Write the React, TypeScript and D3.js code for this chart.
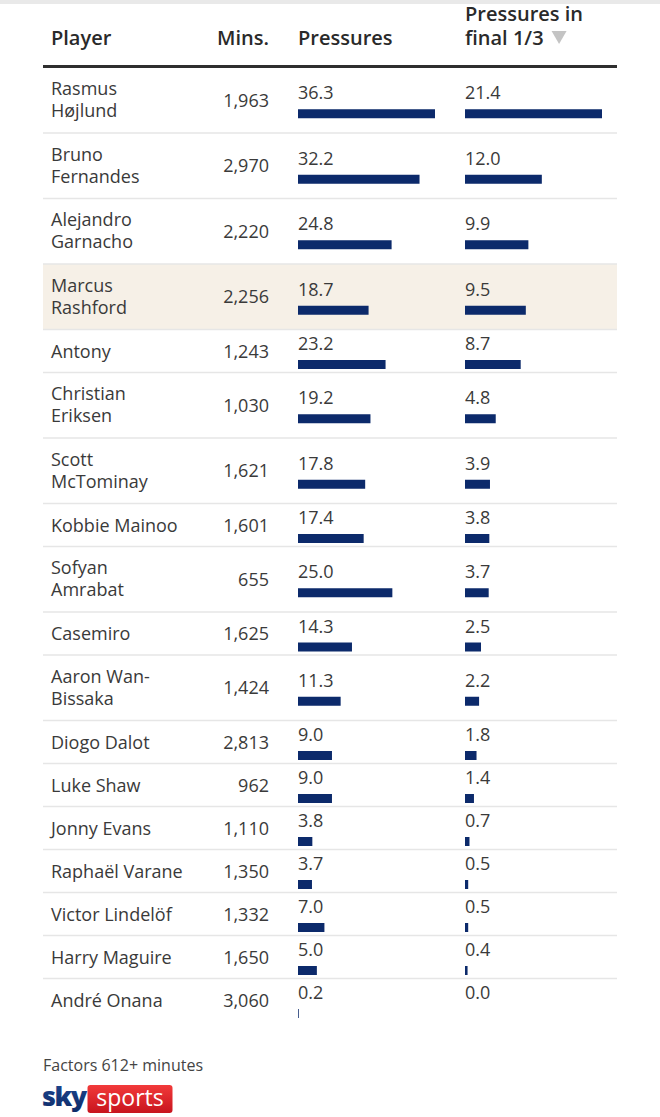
import React, { useEffect, useRef } from "react";
import * as d3 from "d3";

const players: string[] = [
  "Rasmus|Højlund",
  "Bruno|Fernandes",
  "Alejandro|Garnacho",
  "Marcus|Rashford",
  "Antony",
  "Christian|Eriksen",
  "Scott|McTominay",
  "Kobbie Mainoo",
  "Sofyan|Amrabat",
  "Casemiro",
  "Aaron Wan-|Bissaka",
  "Diogo Dalot",
  "Luke Shaw",
  "Jonny Evans",
  "Raphaël Varane",
  "Victor Lindelöf",
  "Harry Maguire",
  "André Onana",
];
const minutes: number[] = [1963, 2970, 2220, 2256, 1243, 1030, 1621, 1601, 655, 1625, 1424, 2813, 962, 1110, 1350, 1332, 1650, 3060];
const pressures: number[] = [36.3, 32.2, 24.8, 18.7, 23.2, 19.2, 17.8, 17.4, 25.0, 14.3, 11.3, 9.0, 9.0, 3.8, 3.7, 7.0, 5.0, 0.2];
const finalThird: number[] = [21.4, 12.0, 9.9, 9.5, 8.7, 4.8, 3.9, 3.8, 3.7, 2.5, 2.2, 1.8, 1.4, 0.7, 0.5, 0.5, 0.4, 0.0];
const highlighted: string[] = ["Marcus|Rashford"];
const headers: string[] = ["Player", "Mins.", "Pressures", "Pressures in|final 1/3"];
const footnote = "Factors 612+ minutes";

const W = 660;
const H = 1117;
const FONT = "'Open Sans', 'DejaVu Sans', sans-serif";

export default function App() {
  const ref = useRef<SVGSVGElement | null>(null);

  useEffect(() => {
    const svg = d3.select(ref.current);
    svg.selectAll("*").remove();

    const left = 43;
    const right = 617;
    const colPlayer = 51;
    const colMins = 269;
    const colP = 298;
    const colF = 465;
    const barMax = 137;
    const textColor = "#3a3a3a";
    const navy = "#0c2a6b";

    const xP = d3.scaleLinear().domain([0, d3.max(pressures) as number]).range([0, barMax]);
    const xF = d3.scaleLinear().domain([0, d3.max(finalThird) as number]).range([0, barMax]);
    const fmtInt = d3.format(",");
    const fmt1 = d3.format(".1f");

    // top strip
    svg.append("rect").attr("x", 0).attr("y", 0).attr("width", W).attr("height", 4).attr("fill", "#e9e9e9");

    // header
    const hdr = svg.append("g").attr("font-family", FONT).attr("font-size", 20).attr("font-weight", 600).attr("fill", "#2a2a2a");
    hdr.append("text").attr("x", colPlayer).attr("y", 45).text(headers[0]);
    hdr.append("text").attr("x", colMins).attr("y", 45).attr("text-anchor", "end").text(headers[1]);
    hdr.append("text").attr("x", colP).attr("y", 45).text(headers[2]);
    const h4 = headers[3].split("|");
    const h4t = hdr.append("text").attr("x", colF).attr("y", 21);
    h4t.append("tspan").attr("x", colF).attr("y", 21).text(h4[0]);
    const f3 = h4t.append("tspan").attr("x", colF).attr("y", 45).text(h4[1]);
    const f3w = (f3.node() as SVGTextContentElement).getComputedTextLength();
    const tx = colF + f3w + 8;
    svg
      .append("path")
      .attr("d", `M${tx},31 L${tx + 15},31 L${tx + 7.5},44 Z`)
      .attr("fill", "#c4c4c4");

    svg.append("rect").attr("x", left).attr("y", 65).attr("width", right - left).attr("height", 3).attr("fill", "#2f2f2f");

    // rows
    let y = 67.5;
    const body = svg.append("g").attr("font-family", FONT).attr("font-size", 18).attr("fill", textColor);
    players.forEach((name, i) => {
      const lines = name.split("|");
      const h = lines.length === 2 ? 65.5 : 43;
      const c = y + h / 2;
      if (highlighted.includes(name)) {
        svg.insert("rect", ":first-child").attr("x", left).attr("y", y).attr("width", right - left).attr("height", h).attr("fill", "#f6f0e7");
      }
      if (lines.length === 2) {
        const t = body.append("text").attr("x", colPlayer).attr("y", c - 5);
        t.append("tspan").attr("x", colPlayer).attr("y", c - 5).text(lines[0]);
        t.append("tspan").attr("x", colPlayer).attr("y", c + 17).text(lines[1]);
      } else {
        body.append("text").attr("x", colPlayer).attr("y", c + 6.5).text(lines[0]);
      }
      body.append("text").attr("x", colMins).attr("y", c + 6.5).attr("text-anchor", "end").text(fmtInt(minutes[i]));

      body.append("text").attr("x", colP).attr("y", c - 1).text(fmt1(pressures[i]));
      body.append("text").attr("x", colF).attr("y", c - 1).text(fmt1(finalThird[i]));
      svg.append("rect").attr("x", colP).attr("y", c + 9).attr("width", xP(pressures[i])).attr("height", 9).attr("fill", navy);
      svg.append("rect").attr("x", colF).attr("y", c + 9).attr("width", xF(finalThird[i])).attr("height", 9).attr("fill", navy);

      y += h;
      if (i < players.length - 1) {
        svg.append("rect").attr("x", left).attr("y", y - 0.75).attr("width", right - left).attr("height", 1.5).attr("fill", "#e6e6e6");
      }
    });

    // footnote
    svg.append("text").attr("x", left).attr("y", 1071).attr("font-family", FONT).attr("font-size", 16).attr("fill", "#444").text(footnote);

    // logo
    const defs = svg.append("defs");
    const grad = defs.append("linearGradient").attr("id", "skyred").attr("x1", 0).attr("y1", 0).attr("x2", 0).attr("y2", 1);
    grad.append("stop").attr("offset", "0%").attr("stop-color", "#f23a3a");
    grad.append("stop").attr("offset", "100%").attr("stop-color", "#c8141e");
    const gradB = defs.append("linearGradient").attr("id", "skyblue").attr("x1", 0).attr("y1", 0).attr("x2", 0).attr("y2", 1);
    gradB.append("stop").attr("offset", "0%").attr("stop-color", "#1f4a96");
    gradB.append("stop").attr("offset", "100%").attr("stop-color", "#0d2a66");
    svg
      .append("text")
      .attr("x", 42)
      .attr("y", 1106)
      .attr("font-family", FONT)
      .attr("font-size", 27)
      .attr("font-weight", 800)
      .attr("letter-spacing", -1.5)
      .attr("fill", "url(#skyblue)")
      .text("sky");
    svg.append("rect").attr("x", 87.5).attr("y", 1085).attr("width", 85).attr("height", 28).attr("rx", 3).attr("fill", "url(#skyred)");
    svg
      .append("text")
      .attr("x", 130)
      .attr("y", 1106)
      .attr("text-anchor", "middle")
      .attr("font-family", FONT)
      .attr("font-size", 23)
      .attr("fill", "#fff")
      .text("sports");
  }, []);

  return (
    <svg
      ref={ref}
      width={W}
      height={H}
      viewBox={`0 0 ${W} ${H}`}
      style={{ position: "absolute", top: 0, left: 0, background: "#fff", display: "block" }}
    />
  );
}
